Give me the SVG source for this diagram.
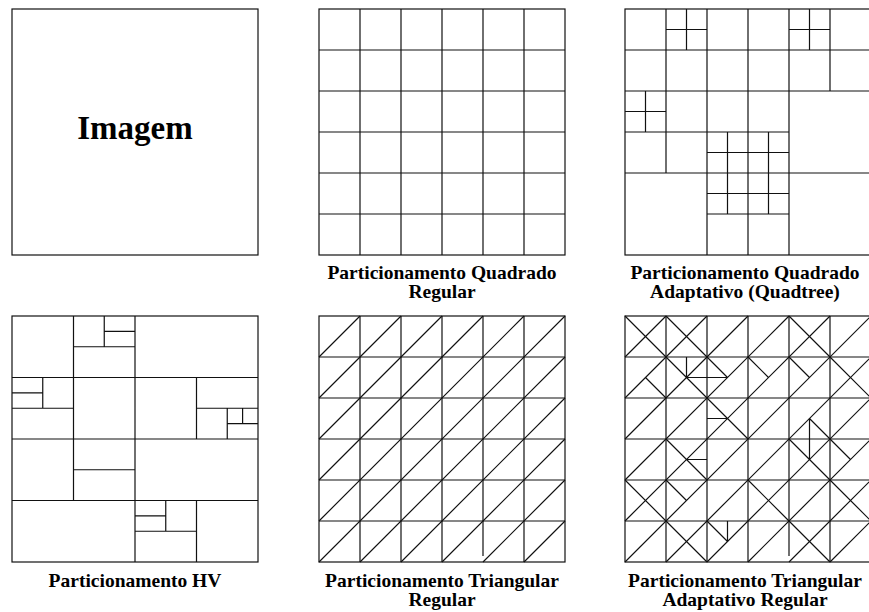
<svg xmlns="http://www.w3.org/2000/svg" width="869" height="612" viewBox="0 0 869 612">
<style>
.ln{stroke:#111;stroke-width:1.2;fill:none}
.lbl{font-family:"Liberation Serif","Times New Roman",serif;font-weight:bold;font-size:19.5px;text-anchor:middle;fill:#000}
.big{font-family:"Liberation Serif","Times New Roman",serif;font-weight:bold;font-size:33px;text-anchor:middle;fill:#000}
</style>
<defs>
<path id="diag" d="M0,41L41,0M0,82L82,0M0,123L123,0M0,164L164,0M0,205L205,0M0,246L246,0M41,246L246,41M82,246L246,82M123,246L246,123M164,246L246,164M205,246L246,205"/>
</defs>
<rect width="869" height="612" fill="#fff"/>

<g id="imagem">
<rect class="ln" x="12" y="9" width="246" height="246"/>
<text class="big" x="135" y="139">Imagem</text>
</g>

<g id="quadrado-regular" transform="translate(319,9)">
<rect class="ln" x="0" y="0" width="246" height="246"/>
<path class="ln" d="M41,0V246M82,0V246M123,0V246M164,0V246M205,0V246M0,41H246M0,82H246M0,123H246M0,164H246M0,205H246"/>
</g>

<g id="quadtree" transform="translate(625,9)">
<rect class="ln" x="0" y="0" width="246" height="246"/>
<path class="ln" d="M41,0V164M82,0V246M123,0V246M164,0V246M205,0V82M0,41H246M0,82H246M0,123H164M0,164H246M82,205H164M61.5,0V41M41,20.5H82M184.5,0V41M164,20.5H205M20.5,82V123M0,102.5H41M102.5,123V205M143.5,123V205M82,143.5H164M82,184.5H164"/>
</g>

<g id="hv" transform="translate(12,316)">
<rect class="ln" x="0" y="0" width="246" height="246"/>
<path class="ln" d="M0,61.5H246M0,123H246M0,184.5H246M123,0V246M61.5,0V184.5M184.5,61.5V123M184.5,184.5V246M61.5,30.75H123M92.25,0V30.75M92.25,15.4H123M0,92.25H61.5M30.75,61.5V92.25M0,76.9H30.75M184.5,92.25H246M215.25,92.25V123M230.6,92.25V107.6M215.25,107.6H246M61.5,153.75H123M123,215.25H184.5M153.75,184.5V215.25M123,199.9H153.75"/>
</g>

<g id="triangular-regular" transform="translate(319,316)">
<rect class="ln" x="0" y="0" width="246" height="246"/>
<path class="ln" d="M41,0V246M82,0V246M123,0V246M164,0V240M205,0V246M0,41H246M0,82H246M0,123H246M0,164H246M0,205H246"/>
<use href="#diag" class="ln"/>
</g>

<g id="triangular-adaptativo" transform="translate(625,316)">
<rect class="ln" x="0" y="0" width="246" height="246"/>
<path class="ln" d="M41,0V246M82,0V246M123,0V246M164,0V240M205,0V246M0,41H246M0,82H246M0,123H246M0,164H246M0,205H246"/>
<use href="#diag" class="ln"/>
<path class="ln" d="M0,0L41,41M41,0L82,41M164,0L205,41M41,41L82,82M205,41L246,82M82,82L123,123M41,123L82,164M164,123L205,164M0,164L41,205M123,164L164,205M205,164L246,205M41,205L82,246M164,205L205,246M82,41L102.5,61.5M123,41L143.5,61.5M164,41L184.5,61.5M205,123L225.5,143.5M41,164L61.5,184.5M82,205L102.5,225.5M20.5,61.5L41,82M184.5,102.5L205,123M61.5,41V61.5M184.5,102.5V143.5M102.5,205V225.5M61.5,61.5H102.5M82,102.5H102.5M61.5,143.5H82"/>
</g>

<g id="labels">
<text class="lbl" x="442" y="279">Particionamento Quadrado</text>
<text class="lbl" x="442" y="298">Regular</text>
<text class="lbl" x="745" y="279">Particionamento Quadrado</text>
<text class="lbl" x="745" y="298">Adaptativo (Quadtree)</text>
<text class="lbl" x="135" y="587">Particionamento HV</text>
<text class="lbl" x="442" y="587">Particionamento Triangular</text>
<text class="lbl" x="442" y="606">Regular</text>
<text class="lbl" x="745" y="587">Particionamento Triangular</text>
<text class="lbl" x="745" y="606">Adaptativo Regular</text>
</g>
</svg>
